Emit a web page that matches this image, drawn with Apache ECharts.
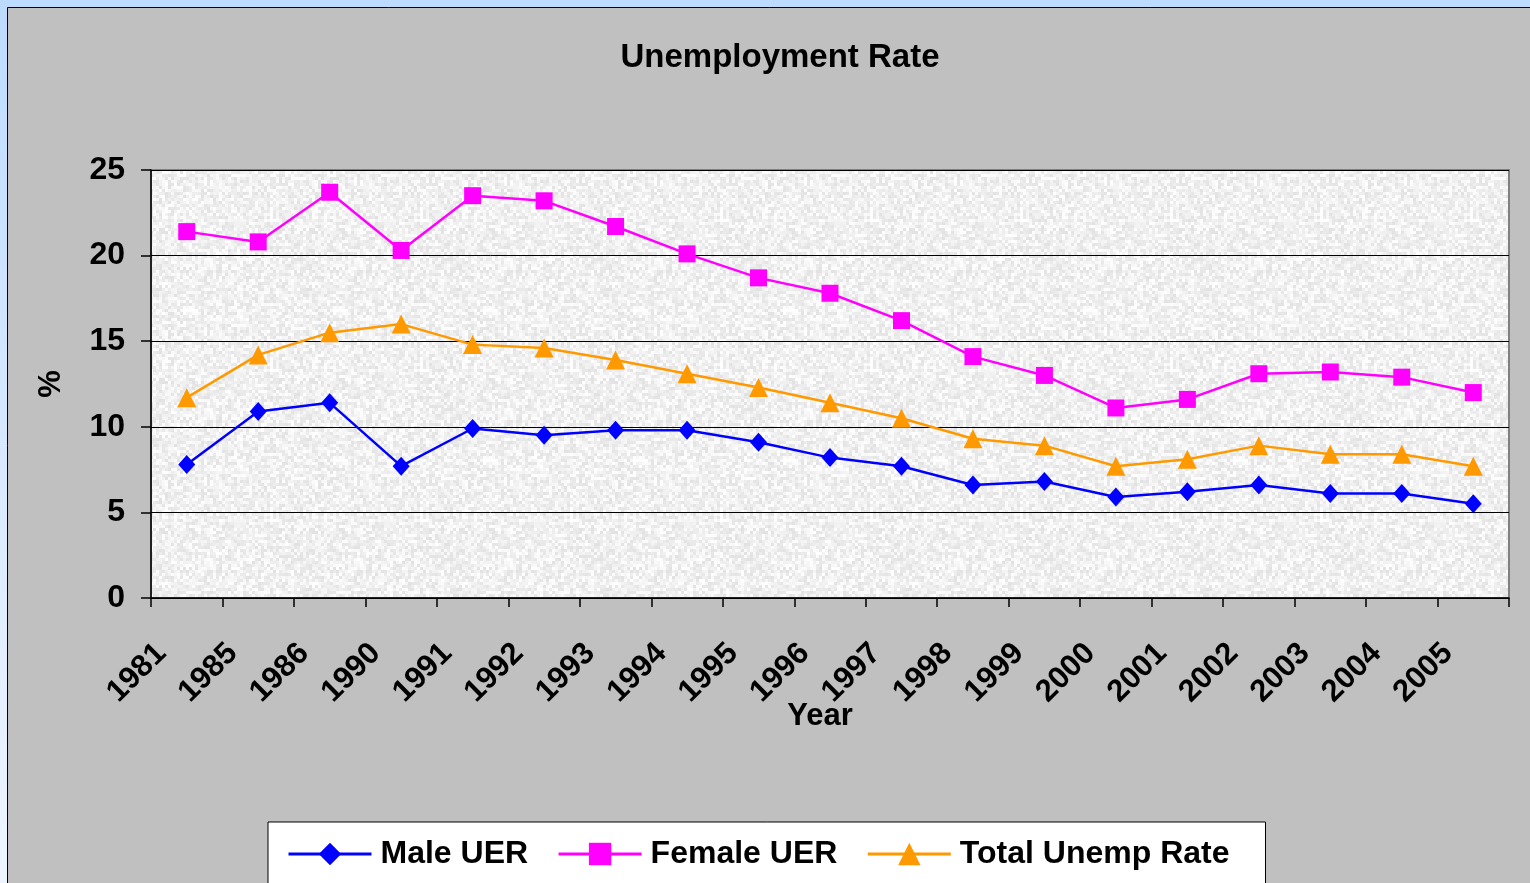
<!DOCTYPE html>
<html>
<head>
<meta charset="utf-8">
<title>Unemployment Rate</title>
<script src="https://cdn.jsdelivr.net/npm/echarts@6/dist/echarts.min.js"></script>
<style>
  html, body { margin: 0; padding: 0; }
  body { background: linear-gradient(to bottom, #bddbff 0%, #dcebff 60%, #eef5ff 100%); }
  #chart { width: 1530px; height: 883px; }
</style>
</head>
<body>
<div id="chart"></div>
<script>
/***** data *****/
var years = ['1981', '1985', '1986', '1990', '1991', '1992', '1993', '1994', '1995', '1996',
             '1997', '1998', '1999', '2000', '2001', '2002', '2003', '2004', '2005'];
var maleUER = [7.8, 10.9, 11.4, 7.7, 9.9, 9.5, 9.8, 9.8, 9.1, 8.2,
               7.7, 6.6, 6.8, 5.9, 6.2, 6.6, 6.1, 6.1, 5.5];
var femaleUER = [21.4, 20.8, 23.7, 20.3, 23.5, 23.2, 21.7, 20.1, 18.7, 17.8,
                 16.2, 14.1, 13.0, 11.1, 11.6, 13.1, 13.2, 12.9, 12.0];
var totalRate = [11.7, 14.2, 15.5, 16.0, 14.8, 14.6, 13.9, 13.1, 12.3, 11.4,
                 10.5, 9.3, 8.9, 7.7, 8.1, 8.9, 8.4, 8.4, 7.7];
var yTicks = [0, 5, 10, 15, 20, 25];

var FONT = '"Liberation Sans", Arial, sans-serif';

/***** granite-like plot background *****/
function makeGrain() {
	var c = document.createElement('canvas');
	c.width = 150; c.height = 150;
	var ctx = c.getContext('2d');
	var s = 12345;
	for (var y = 0; y < 150; y += 3) {
		for (var x = 0; x < 150; x += 3) {
			s = (s * 1103515245 + 12345) & 0x7fffffff;
			var v = 226 + ((s >> 16) % 30);
			ctx.fillStyle = 'rgb(' + v + ',' + v + ',' + v + ')';
			ctx.fillRect(x, y, 3, 3);
		}
	}
	return c;
}

var myChart = echarts.init(document.getElementById('chart'), null, { renderer: 'canvas' });

function mkSeries(name, data, color, symbol, size) {
	return {
		name: name,
		type: 'line',
		data: data,
		symbol: symbol,
		symbolSize: size,
		showAllSymbol: true,
		lineStyle: { color: color, width: 2.5 },
		itemStyle: { color: color, borderWidth: 0 },
		emphasis: { disabled: true }
	};
}

var option = {
	animation: false,
	backgroundColor: 'transparent',
	graphic: [{
		type: 'rect',
		z: -100,
		shape: { x: 7.5, y: 7.5, width: 1540, height: 900 },
		style: { fill: '#c0c0c0', stroke: '#000', lineWidth: 1 }
	}],
	title: {
		text: 'Unemployment Rate',
		left: 775,
		textAlign: 'center',
		top: 36,
		textStyle: { fontFamily: FONT, fontWeight: 'bold', fontSize: 33, color: '#000' }
	},
	grid: {
		left: 151, right: 21, top: 170, bottom: 285,
		show: true,
		backgroundColor: { image: makeGrain(), repeat: 'repeat' },
		borderColor: '#808080',
		borderWidth: 2
	},
	legend: {
		left: 268,
		top: 822,
		padding: [16, 36, 20, 19],
		itemGap: 29,
		itemWidth: 83,
		itemHeight: 28,
		backgroundColor: '#fff',
		borderColor: '#000',
		borderWidth: 1,
		borderRadius: 0,
		lineStyle: { width: 3 },
		textStyle: { fontFamily: FONT, fontWeight: 'bold', fontSize: 32, color: '#000', padding: [0, 0, 0, 4] },
		data: ['Male UER', 'Female UER', 'Total Unemp Rate']
	},
	xAxis: {
		type: 'category',
		data: years,
		boundaryGap: true,
		name: 'Year',
		nameLocation: 'middle',
		nameGap: 103,
		nameMoveOverlap: false,
		nameTextStyle: { fontFamily: FONT, fontWeight: 'bold', fontSize: 31, color: '#000', padding: [0, 20, 0, 0] },
		axisLine: { lineStyle: { color: '#000', width: 1.5 } },
		axisTick: { show: true, length: 9, alignWithLabel: false, lineStyle: { color: '#000', width: 1.5 } },
		axisLabel: {
			interval: 0,
			rotate: 45,
			margin: 25,
			padding: [0, 36, 0, 0],
			fontFamily: FONT, fontWeight: 'bold', fontSize: 31, color: '#000'
		},
		splitLine: { show: false }
	},
	yAxis: {
		type: 'value',
		min: yTicks[0],
		max: yTicks[yTicks.length - 1],
		interval: 5,
		name: '%',
		nameLocation: 'middle',
		nameGap: 84,
		nameRotate: 90,
		nameMoveOverlap: false,
		nameTextStyle: { fontFamily: FONT, fontWeight: 'bold', fontSize: 31, color: '#000' },
		axisLine: { show: true, lineStyle: { color: '#000', width: 1.5 } },
		axisTick: { show: true, length: 10, lineStyle: { color: '#000', width: 1.5 } },
		axisLabel: { margin: 26, fontFamily: FONT, fontWeight: 'bold', fontSize: 32, color: '#000' },
		splitLine: { show: true, lineStyle: { color: '#000', width: 1 } }
	},
	series: [
		mkSeries('Male UER', maleUER, '#0000ff', 'diamond', [17, 19]),
		mkSeries('Female UER', femaleUER, '#ff00ff', 'rect', 17),
		mkSeries('Total Unemp Rate', totalRate, '#ff9900', 'triangle', 19)
	]
};

myChart.setOption(option);
</script>
</body>
</html>
